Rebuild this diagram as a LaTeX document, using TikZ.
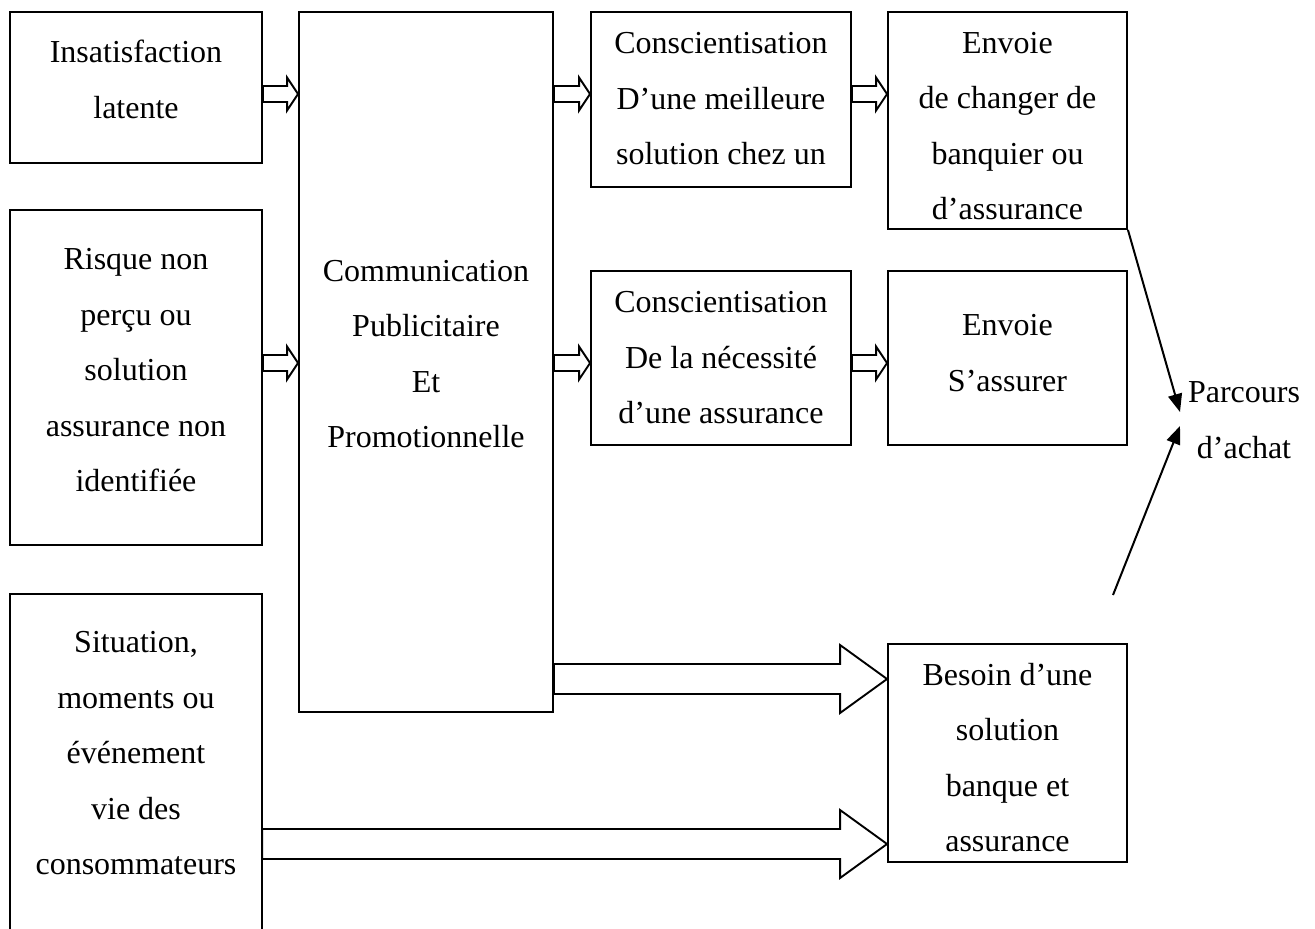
\documentclass[tikz,border=0pt]{standalone}
\usepackage{fontspec}
\setmainfont{Liberation Serif}
\usetikzlibrary{calc,arrows.meta}

% hollow block arrow: start, tip, shaft half-height, head half-height, head length
\newcommand\blockarrow[5]{%
  \path let \p1=(#1), \p2=(#2) in
    [blk] (\x1,\y1+#3) -- (\x2-#5,\y1+#3) -- (\x2-#5,\y1+#4) -- (\x2,\y1)
      -- (\x2-#5,\y1-#4) -- (\x2-#5,\y1-#3) -- (\x1,\y1-#3) -- cycle;}

\begin{document}
\begin{tikzpicture}[x=1pt,y=-1pt,
  box/.style={draw,line width=1.9pt,inner sep=0pt},
  frame/.style={inner sep=0pt},
  txt/.style={align=center,font=\fontsize{32}{55.5}\selectfont,inner sep=0pt},
  blk/.style={draw,line width=1.9pt,fill=white,line join=miter},
  pointer/.style={line width=2pt,-{Triangle[length=18pt,width=14pt]}}]
\useasboundingbox (0,0) rectangle (1315,929);

% boxes
\node[box,minimum width=252pt,minimum height=151pt] (b1) at (136,87.5) {};
\node[box,minimum width=252pt,minimum height=335pt] (b2) at (136,377.5) {};
\node[frame,minimum width=252pt,minimum height=346pt] (b3) at (136,767) {};
\draw[line width=1.9pt] (b3.south west) -- (b3.north west) -- (b3.north east) -- (b3.south east);
\node[box,minimum width=254pt,minimum height=700pt] (cen) at (426,362) {};
\node[box,minimum width=260pt,minimum height=175pt] (c1) at (721,99.5) {};
\node[box,minimum width=239pt,minimum height=217pt] (e1) at (1007.5,120.5) {};
\node[box,minimum width=260pt,minimum height=174pt] (c2) at (721,358) {};
\node[box,minimum width=239pt,minimum height=174pt] (e2) at (1007.5,358) {};
\node[box,minimum width=239pt,minimum height=218pt] (bes) at (1007.5,753) {};

% texts
\node[txt] (t1) at (136,79.5) {Insatisfaction\\latente};
\node[txt] (t2) at (136,370.4) {Risque non\\perçu ou\\solution\\assurance non\\identifiée};
\node[txt] (t3) at (136,753.4) {Situation,\\moments ou\\événement\\vie des\\consommateurs};
\node[txt] (tcen) at (426,354) {Communication\\Publicitaire\\Et\\Promotionnelle};
\node[txt] (tc1) at (721,98.7) {Conscientisation\\D’une meilleure\\solution chez un};
\node[txt] (te1) at (1007.5,126.25) {Envoie\\de changer de\\banquier ou\\d’assurance};
\node[txt] (tc2) at (721,358) {Conscientisation\\De la nécessité\\d’une assurance};
\node[txt] (te2) at (1007.5,353) {Envoie\\S’assurer};
\node[txt] (tbes) at (1007.5,757.75) {Besoin d’une\\solution\\banque et\\assurance};
\node[txt] (parc) at (1244,420) {Parcours\\d’achat};

% arrow rows
\coordinate (r1) at (0,94);
\coordinate (r2) at (0,363);
\coordinate (r3) at (0,679);
\coordinate (r4) at (0,844);

% small block arrows
\blockarrow{b1.east |- r1}{cen.west |- r1}{8pt}{16.5pt}{11pt}
\blockarrow{b2.east |- r2}{cen.west |- r2}{8pt}{16.5pt}{11pt}
\blockarrow{cen.east |- r1}{c1.west |- r1}{8pt}{16.5pt}{11pt}
\blockarrow{cen.east |- r2}{c2.west |- r2}{8pt}{16.5pt}{11pt}
\blockarrow{c1.east |- r1}{e1.west |- r1}{8pt}{16.5pt}{11pt}
\blockarrow{c2.east |- r2}{e2.west |- r2}{8pt}{16.5pt}{11pt}

% large block arrows
\blockarrow{cen.east |- r3}{bes.west |- r3}{15pt}{34pt}{47pt}
\blockarrow{b3.east |- r4}{bes.west |- r4}{15pt}{34pt}{47pt}

% arrows to the purchase path
\coordinate (pin1) at (1180,412);
\coordinate (pin2) at (1180,426);
\coordinate (pstart) at (1113,595);
\draw[pointer] (e1.south east) -- (pin1);
\draw[pointer] (pstart) -- (pin2);
\end{tikzpicture}
\end{document}
